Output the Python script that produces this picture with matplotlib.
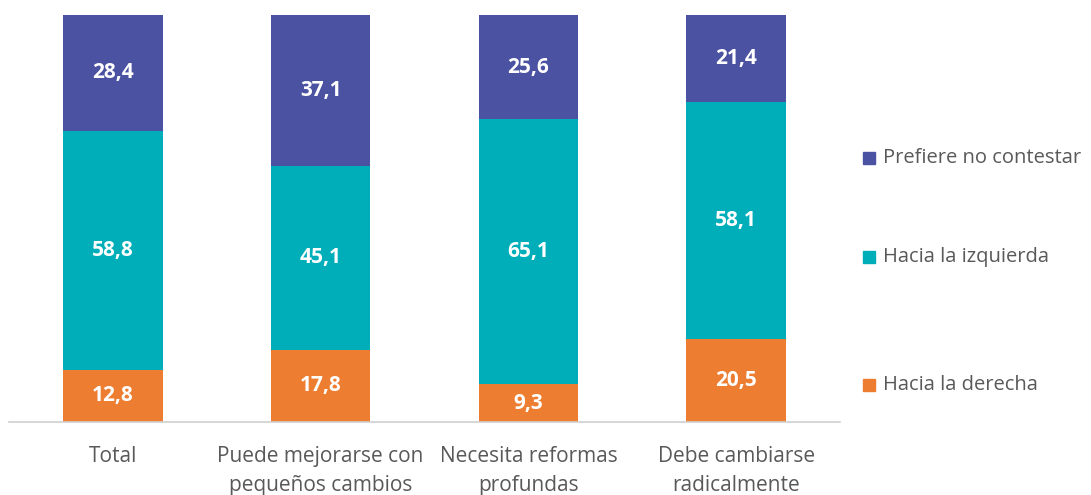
import matplotlib.pyplot as plt
from matplotlib.patches import Rectangle

categories = ["Total", "Puede mejorarse con\npequeños cambios",
              "Necesita reformas\nprofundas", "Debe cambiarse\nradicalmente"]
derecha = [12.8, 17.8, 9.3, 20.5]
izquierda = [58.8, 45.1, 65.1, 58.1]
no_contesta = [28.4, 37.1, 25.6, 21.4]

series = [
    ("Hacia la derecha", derecha, "#ED7D31"),
    ("Hacia la izquierda", izquierda, "#00AEBA"),
    ("Prefiere no contestar", no_contesta, "#4A52A1"),
]

plt.rcParams['font.family'] = ['Open Sans', 'DejaVu Sans']
gray = "#595959"

fig = plt.figure(figsize=(10.91, 4.95), dpi=100)
ax = fig.add_axes([9 / 1091, 1 - 422 / 495, 831 / 1091, 407 / 495])

x = range(len(categories))
bottom = [0] * len(categories)
for name, vals, color in series:
    ax.bar(x, vals, width=0.48, bottom=bottom, color=color, label=name)
    for i, v in enumerate(vals):
        ax.text(i, bottom[i] + v / 2, f"{v:.1f}".replace(".", ","),
                ha="center", va="center", color="white",
                fontsize=15, fontweight="bold")
    bottom = [b + v for b, v in zip(bottom, vals)]

ax.set_xlim(-0.5, len(categories) - 0.5)
ax.set_ylim(0, 100)
ax.set_yticks([])
ax.set_xticks(list(x))
ax.set_xticklabels(categories, fontsize=15, color=gray, linespacing=1.5)
ax.tick_params(axis="x", length=0, pad=17)
for s in ["top", "right", "left"]:
    ax.spines[s].set_visible(False)
ax.spines["bottom"].set_color("#D0D0D0")
ax.spines["bottom"].set_linewidth(1.2)

# legend entries placed by hand (uneven spacing as in the original)
legend_y = {"Prefiere no contestar": 158, "Hacia la izquierda": 257,
            "Hacia la derecha": 385}
for name, vals, color in series:
    yc = 1 - legend_y[name] / 495
    fig.patches.append(Rectangle((863 / 1091, yc - 6 / 495), 12 / 1091, 12 / 495,
                                 transform=fig.transFigure, color=color))
    fig.text(883 / 1091, yc, name, ha="left", va="center",
             fontsize=14.5, color=gray)

fig.savefig("out.png", dpi=100)
